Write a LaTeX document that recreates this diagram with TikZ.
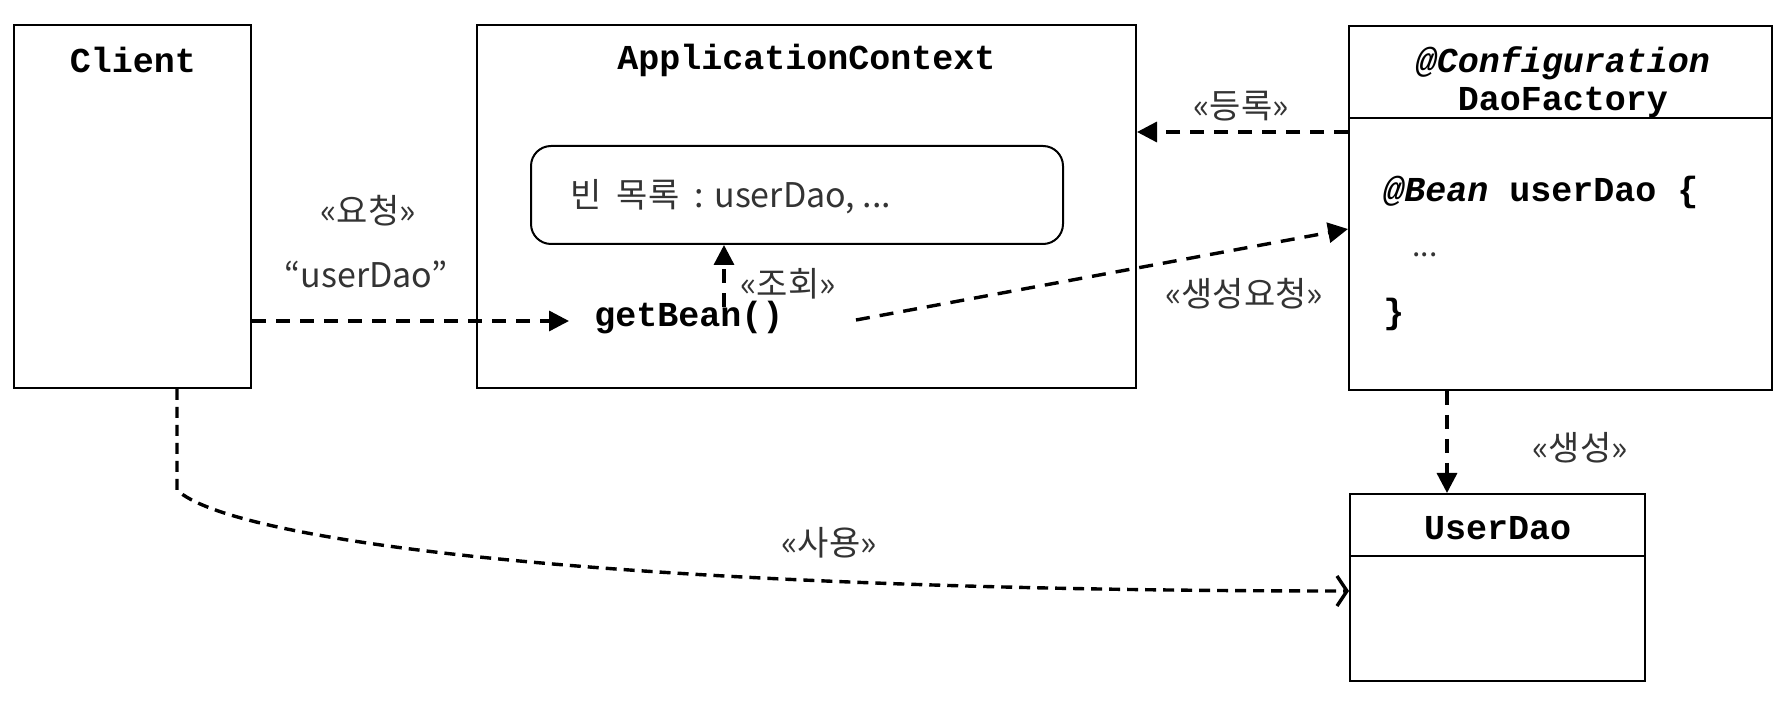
\documentclass[tikz,border=0pt]{standalone}
\usepackage{fontspec}
\setmainfont{Noto Sans CJK KR}
\setmonofont{Liberation Mono}
\usetikzlibrary{arrows.meta}
\begin{document}
\begin{tikzpicture}[x=0.5pt,y=-0.5pt,
  box/.style={draw, line width=1pt, inner sep=0pt},
  mono/.style={font=\fontsize{17.5}{20}\selectfont\ttfamily\bfseries, inner sep=0pt},
  lbl/.style={font=\fontsize{17}{20}\selectfont, inner sep=0pt, text=black!80},
  dep/.style={line width=1.7pt, dash pattern=on 7pt off 5pt, -{Triangle[length=10pt,width=10pt]}},
  use/.style={line width=1.7pt, dash pattern=on 5.5pt off 3.5pt, -{Straight Barb[length=5pt,width=15pt]}},
]
\useasboundingbox (0,0) rectangle (1789,705);

% Client
\node[box, minimum width=118.5pt, minimum height=181.5pt] (client) at (132.5,206.5) {};
\node[mono] (clientT) at (133,60) {Client};

% ApplicationContext
\node[box, minimum width=329.5pt, minimum height=181.5pt] (ctx) at (806.5,206.5) {};
\node[mono] (ctxT) at (806.5,60) {ApplicationContext};
\node[box, rounded corners=10pt, minimum width=266pt, minimum height=49pt] (list) at (797,195) {};
\node[lbl, anchor=west] (listT) at (570,197) {빈\hspace{0.45em}목록\hspace{0.45em}: userDao, ...};
\node[mono] (gb) at (689,318) {getBean()};

% Configuration
\node[box, minimum width=211.5pt, minimum height=182pt] (cfg) at (1560.5,208) {};
\draw[line width=1pt] (cfg.west |- 0,118) -- (cfg.east |- 0,118);
\node[mono, font=\fontsize{17.5}{20}\selectfont\ttfamily\bfseries\itshape] (cfgT) at (1563,63) {@Configuration};
\node[mono] (cfgN) at (1563,102) {DaoFactory};
\node[mono, anchor=west] (bean) at (1383,192) {{\itshape @Bean} userDao \{};
\node[lbl, anchor=west, font=\fontsize{15}{18}\selectfont] (dots) at (1412,255) {...};
\node[mono, anchor=west] (brace) at (1383,314) {\}};

% UserDao
\node[box, minimum width=147.5pt, minimum height=93.5pt] (ud) at (1497.5,587.5) {};
\draw[line width=1pt] (ud.west |- 0,556) -- (ud.east |- 0,556);
\node[mono] (udT) at (1497.5,528) {UserDao};

% connectors
\draw[dep] (client.east |- 0,321) -- (569,321);
\coordinate (lookup) at (724,307);
\draw[dep] (lookup) -- (lookup |- list.south);
\draw[dep] (cfg.west |- 0,132) -- (ctx.east |- 0,132);
\coordinate (reqStart) at (856,320);
\draw[dep] (reqStart) -- (cfg.west |- 0,229);
\draw[dep] (cfg.south -| 1447,0) -- (ud.north -| 1447,0);
\draw[use] (client.south -| 177,0) -- (177,490) .. controls (230,540) and (600,591) .. (ud.west |- 0,591);

% labels
\node[lbl] (lReq) at (368,211) {«요청»};
\node[lbl] (lName) at (366,274) {“userDao”};
\node[lbl] (lLook) at (788,284) {«조회»};
\node[lbl] (lReg) at (1241,106) {«등록»};
\node[lbl] (lGen) at (1244,294) {«생성요청»};
\node[lbl] (lNew) at (1580,448) {«생성»};
\node[lbl] (lUse) at (829,543) {«사용»};
\end{tikzpicture}
\end{document}
